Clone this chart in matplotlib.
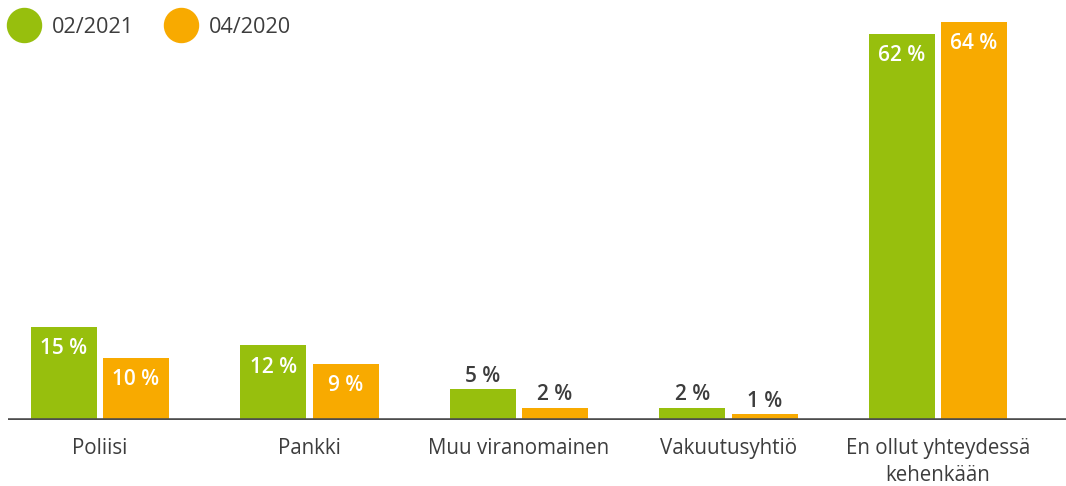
import numpy as np
import matplotlib.pyplot as plt
from matplotlib.lines import Line2D

# data
categories = ['Poliisi', 'Pankki', 'Muu viranomainen', 'Vakuutusyhtiö',
              'En ollut yhteydessä\nkehenkään']
series_names = ['02/2021', '04/2020']
vals_2021 = [15, 12, 5, 2, 62]
vals_2020 = [10, 9, 2, 1, 64]

green = '#97bf0d'
orange = '#f8aa00'
textcol = '#3d3d3d'

plt.rcParams['font.family'] = ['Open Sans', 'DejaVu Sans']

W, H = 1066, 486
fig = plt.figure(figsize=(W / 100, H / 100), dpi=100)
ax = fig.add_axes([8 / W, 66 / H, 1058 / W, 420 / H])

x = np.arange(len(categories))
w = 0.315
off = 0.172

for vals, col, dx in [(vals_2021, green, -off), (vals_2020, orange, off)]:
    bars = ax.bar(x + dx, vals, width=w, color=col, zorder=2)
    for b, v in zip(bars, vals):
        cx = b.get_x() + b.get_width() / 2
        if v >= 9:
            ax.text(cx, v - 1.8, f'{v} %', ha='center', va='top', color='white',
                    fontsize=15, fontweight='semibold')
        else:
            ax.text(cx, v + 0.35, f'{v} %', ha='center', va='bottom', color=textcol,
                    fontsize=15, fontweight='semibold')

ax.set_xlim(-0.439, 4.611)
ax.set_ylim(0, 67.5)
ax.axhline(0, color='#4d4d4d', lw=2.6, zorder=3)

for s in ax.spines.values():
    s.set_visible(False)
ax.set_yticks([])
ax.set_xticks(x)
ax.set_xticklabels(categories, fontsize=14.8, color=textcol, linespacing=1.4)
ax.tick_params(axis='x', length=0, pad=13)

# legend: circles + text placed in pixel positions
for name, col, px in zip(series_names, (green, orange), (24, 181)):
    fig.add_artist(Line2D([px / W], [1 - 25 / H], marker='o', markersize=24.5,
                          color=col, transform=fig.transFigure))
    fig.text((px + 28) / W, 1 - 25 / H, name, ha='left', va='center_baseline',
             fontsize=15.6, color=textcol)

fig.savefig('out.png', dpi=100)
